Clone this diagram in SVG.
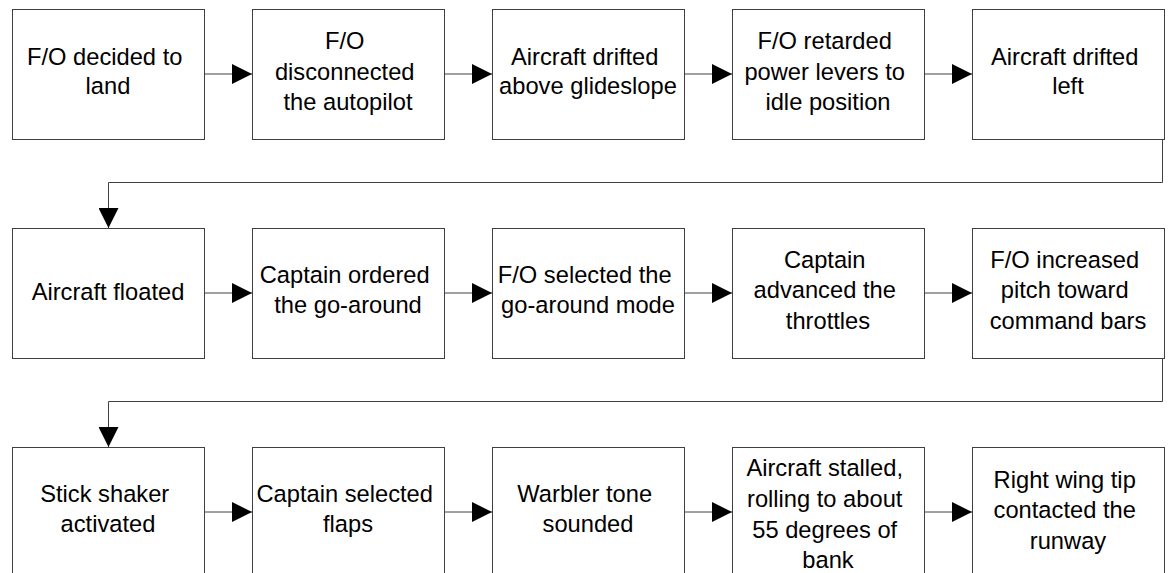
<svg xmlns="http://www.w3.org/2000/svg" width="1171" height="573" viewBox="0 0 1171 573">
<style>
.box{fill:#fff;stroke:#404040;stroke-width:1}
.lbl{font-family:"Liberation Sans",Arial,sans-serif;font-size:23.7px;fill:#000;text-anchor:middle}
.con{fill:none;stroke:#404040;stroke-width:1}
</style>
<defs>
<marker id="ah" markerUnits="userSpaceOnUse" markerWidth="20" markerHeight="20" refX="20" refY="10" orient="auto">
<path d="M0,0 L20,10 L0,20 z" fill="#000"/>
</marker>
</defs>
<rect width="1171" height="573" fill="#fff"/>
<g id="connectors">
<path class="con" d="M204,74 H252" marker-end="url(#ah)"/>
<path class="con" d="M444,74 H492" marker-end="url(#ah)"/>
<path class="con" d="M684,74 H732" marker-end="url(#ah)"/>
<path class="con" d="M924,74 H972" marker-end="url(#ah)"/>
<path class="con" d="M1162.5,139 V182.5 H108.5 V228" marker-end="url(#ah)"/>
<path class="con" d="M204,293 H252" marker-end="url(#ah)"/>
<path class="con" d="M444,293 H492" marker-end="url(#ah)"/>
<path class="con" d="M684,293 H732" marker-end="url(#ah)"/>
<path class="con" d="M924,293 H972" marker-end="url(#ah)"/>
<path class="con" d="M1162.5,358 V401.5 H108.5 V447" marker-end="url(#ah)"/>
<path class="con" d="M204,512 H252" marker-end="url(#ah)"/>
<path class="con" d="M444,512 H492" marker-end="url(#ah)"/>
<path class="con" d="M684,512 H732" marker-end="url(#ah)"/>
<path class="con" d="M924,512 H972" marker-end="url(#ah)"/>
</g>
<g id="n1"><rect class="box" x="12.5" y="9.5" width="192" height="130"/>
<text class="lbl" xml:space="preserve"><tspan x="108" y="64.5">F/O decided to </tspan><tspan x="108" y="94">land</tspan></text></g>
<g id="n2"><rect class="box" x="252.5" y="9.5" width="192" height="130"/>
<text class="lbl" xml:space="preserve"><tspan x="348" y="49">F/O </tspan><tspan x="348" y="79.5">disconnected </tspan><tspan x="348" y="110">the autopilot</tspan></text></g>
<g id="n3"><rect class="box" x="492.5" y="9.5" width="192" height="130"/>
<text class="lbl" xml:space="preserve"><tspan x="588" y="64.5">Aircraft drifted </tspan><tspan x="588" y="94">above glideslope</tspan></text></g>
<g id="n4"><rect class="box" x="732.5" y="9.5" width="192" height="130"/>
<text class="lbl" xml:space="preserve"><tspan x="828" y="49">F/O retarded </tspan><tspan x="828" y="79.5">power levers to </tspan><tspan x="828" y="110">idle position</tspan></text></g>
<g id="n5"><rect class="box" x="972.5" y="9.5" width="192" height="130"/>
<text class="lbl" xml:space="preserve"><tspan x="1068" y="64.5">Aircraft drifted </tspan><tspan x="1068" y="94">left</tspan></text></g>

<g id="n6"><rect class="box" x="12.5" y="228.5" width="192" height="130"/>
<text class="lbl" xml:space="preserve"><tspan x="108" y="300">Aircraft floated</tspan></text></g>
<g id="n7"><rect class="box" x="252.5" y="228.5" width="192" height="130"/>
<text class="lbl" xml:space="preserve"><tspan x="348" y="283.3">Captain ordered </tspan><tspan x="348" y="313">the go-around</tspan></text></g>
<g id="n8"><rect class="box" x="492.5" y="228.5" width="192" height="130"/>
<text class="lbl" xml:space="preserve"><tspan x="588" y="283.3">F/O selected the </tspan><tspan x="588" y="313">go-around mode</tspan></text></g>
<g id="n9"><rect class="box" x="732.5" y="228.5" width="192" height="130"/>
<text class="lbl" xml:space="preserve"><tspan x="828" y="267.5">Captain </tspan><tspan x="828" y="298">advanced the </tspan><tspan x="828" y="328.5">throttles</tspan></text></g>
<g id="n10"><rect class="box" x="972.5" y="228.5" width="192" height="130"/>
<text class="lbl" xml:space="preserve"><tspan x="1068" y="267.5">F/O increased </tspan><tspan x="1068" y="298">pitch toward </tspan><tspan x="1068" y="328.5">command bars</tspan></text></g>

<g id="n11"><rect class="box" x="12.5" y="447.5" width="192" height="130"/>
<text class="lbl" xml:space="preserve"><tspan x="108" y="502.3">Stick shaker </tspan><tspan x="108" y="532">activated</tspan></text></g>
<g id="n12"><rect class="box" x="252.5" y="447.5" width="192" height="130"/>
<text class="lbl" xml:space="preserve"><tspan x="348" y="502.3">Captain selected </tspan><tspan x="348" y="532">flaps</tspan></text></g>
<g id="n13"><rect class="box" x="492.5" y="447.5" width="192" height="130"/>
<text class="lbl" xml:space="preserve"><tspan x="588" y="502.3">Warbler tone </tspan><tspan x="588" y="532">sounded</tspan></text></g>
<g id="n14"><rect class="box" x="732.5" y="447.5" width="192" height="130"/>
<text class="lbl" xml:space="preserve"><tspan x="828" y="476.3">Aircraft stalled, </tspan><tspan x="828" y="507">rolling to about </tspan><tspan x="828" y="537.5">55 degrees of </tspan><tspan x="828" y="568">bank</tspan></text></g>
<g id="n15"><rect class="box" x="972.5" y="447.5" width="192" height="130"/>
<text class="lbl" xml:space="preserve"><tspan x="1068" y="487.5">Right wing tip </tspan><tspan x="1068" y="518">contacted the </tspan><tspan x="1068" y="548.5">runway</tspan></text></g>
</svg>
